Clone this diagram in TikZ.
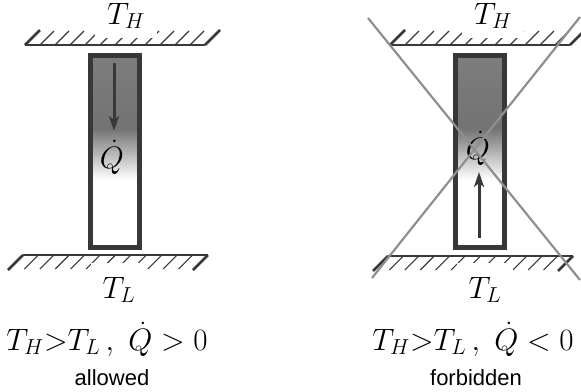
\RequirePackage{fix-cm}
\documentclass[tikz,border=0pt]{standalone}
\usepackage{fontspec}
\newfontfamily\sansf{Liberation Sans}
\usetikzlibrary{arrows.meta}
\definecolor{rodtop}{gray}{0.49}
\definecolor{rodband}{gray}{0.45}
\definecolor{edgec}{gray}{0.22}
\definecolor{crossc}{gray}{0.56}
\pgfdeclareverticalshading{rod}{100bp}{color(0bp)=(white); color(42.6bp)=(white); color(56bp)=(rodband); color(75bp)=(rodtop); color(100bp)=(rodtop)}
\begin{document}
\begin{tikzpicture}[x=1pt,y=-1pt,
  wall/.style={line width=2.4pt, draw=edgec},
  hatch/.style={line width=1.1pt, draw=edgec},
  endhatch/.style={line width=2.6pt, draw=edgec},
  rodbox/.style={line width=5pt, draw=edgec, shading=rod, minimum width=49pt, minimum height=192pt, inner sep=0pt},
  flow/.style={line width=3pt, draw=edgec, -{Stealth[length=15pt,width=10pt,inset=4pt]}},
  mathlbl/.style={font=\fontsize{31}{36}\selectfont, inner sep=0pt},
  walllbl/.style={mathlbl, fill=white, inner xsep=12pt},
  sanslbl/.style={font=\sansf\fontsize{22}{26}\selectfont, inner sep=0pt},
  crossline/.style={line width=2.2pt, draw=crossc}
]
\useasboundingbox (0,0) rectangle (581,391);

% ---------- left panel (allowed) ----------
\draw[wall] (25,45) -- (205,45);
\foreach \k in {1,...,11} \draw[hatch] ({25+15*\k},45) -- ++(14,-14);
\draw[endhatch] (25,45) -- ++(15,-15);
\draw[endhatch] (205,45) -- ++(15,-15);
\node[walllbl, anchor=base, inner ysep=9pt] (tha) at (126,24) {$T_H$};

\draw[wall] (23,255) -- (208,255);
\foreach \k in {1,...,11} \draw[hatch] ({23+15.42*\k},255) -- ++(-14,14);
\draw[endhatch] (23,255) -- ++(-15,15);
\draw[endhatch] (208,255) -- ++(-15,15);
\node[walllbl, anchor=base, inner ysep=14pt] (tla) at (119,298) {$T_L$};

\node[rodbox] (roda) at (115,151.5) {};
\coordinate (fa1) at (114,63);
\coordinate (fa2) at (114,131);
\draw[flow] (fa1) -- (fa2);
\node[mathlbl] (qa) at (112,157) {$\dot{Q}$};

\node[mathlbl, anchor=base] (ca) at (107,350) {$T_H{>}T_L\,,\ \dot{Q}>0$};
\node[sanslbl, anchor=base] (alw) at (112,385) {allowed};

% ---------- right panel (forbidden) ----------
\draw[wall] (390,45) -- (570,45);
\foreach \k in {1,...,11} \draw[hatch] ({390+15*\k},45) -- ++(14,-14);
\draw[endhatch] (390,45) -- ++(15,-15);
\draw[endhatch] (570,45) -- ++(15,-15);
\node[walllbl, anchor=base, inner ysep=9pt] (thb) at (493,24) {$T_H$};

\draw[wall] (388,256) -- (573,256);
\foreach \k in {1,...,11} \draw[hatch] ({388+15.42*\k},256) -- ++(-14,14);
\draw[endhatch] (388,256) -- ++(-15,15);
\draw[endhatch] (573,256) -- ++(-15,15);
\node[walllbl, anchor=base, inner ysep=14pt] (tlb) at (485,298) {$T_L$};

\node[rodbox] (rodb) at (480,151.5) {};
\coordinate (fb1) at (479,238);
\coordinate (fb2) at (479,172);
\draw[flow] (fb1) -- (fb2);
\node[mathlbl] (qb) at (478,148) {$\dot{Q}$};

\node[mathlbl, anchor=base] (cb) at (473,350) {$T_H{>}T_L\,,\ \dot{Q}<0$};
\node[sanslbl, anchor=base] (fbd) at (476,385) {forbidden};

\coordinate (x1) at (368,18);
\coordinate (x2) at (580,280);
\coordinate (x3) at (580,17);
\coordinate (x4) at (372,278);
\draw[crossline] (x1) -- (x2);
\draw[crossline] (x3) -- (x4);
\end{tikzpicture}
\end{document}
